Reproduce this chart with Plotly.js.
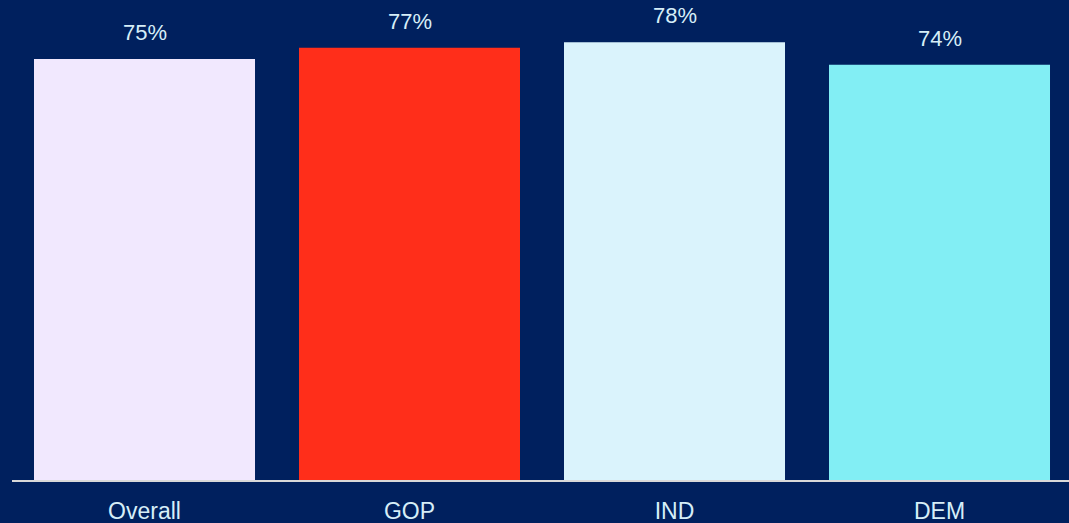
<!DOCTYPE html>
<html>
<head>
<meta charset="utf-8">
<script src="https://cdn.plot.ly/plotly-3.0.1.min.js"></script>
<style>html,body{margin:0;padding:0;background:#00205E;overflow:hidden;}#chart{width:1072px;height:523px;}</style>
</head>
<body>
<div id="chart"></div>
<script>
const categories = ["Overall", "GOP", "IND", "DEM"];
const values = [0.75, 0.77, 0.78, 0.74];
const valueLabels = ["75%", "77%", "78%", "74%"];
const barColors = ["#F1E8FE", "#FF2E1A", "#DAF3FC", "#82EEF4"];

const textColor = "#D6EEF8";
const valueFont = {family: "Liberation Sans, Arial, sans-serif", size: 22, color: textColor};
const tickFont = {family: "Liberation Sans, Arial, sans-serif", size: 23, color: textColor};

const trace = {
  type: "bar",
  x: categories,
  y: values,
  marker: {color: barColors, line: {width: 0}},
  hoverinfo: "none"
};

const annotations = categories.map((c, i) => ({
  x: c, y: values[i], text: valueLabels[i],
  xref: "x", yref: "y", showarrow: false,
  yanchor: "bottom", yshift: 12,
  font: valueFont
}));

const layout = {
  width: 1072, height: 523,
  margin: {l: 12, r: 0, t: 31, b: 43},
  paper_bgcolor: "#00205E",
  plot_bgcolor: "#00205E",
  bargap: 0.166,
  showlegend: false,
  font: valueFont,
  xaxis: {
    showgrid: false, zeroline: false,
    showline: true, linecolor: "#D9D9D9", linewidth: 2,
    ticks: "outside", ticklen: 9, tickcolor: "rgba(0,0,0,0)",
    tickfont: tickFont, fixedrange: true
  },
  yaxis: {
    range: [0, 0.8], visible: false, showgrid: false, zeroline: false, fixedrange: true
  },
  annotations: annotations
};

Plotly.newPlot("chart", [trace], layout, {displayModeBar: false, staticPlot: true});
</script>
</body>
</html>
